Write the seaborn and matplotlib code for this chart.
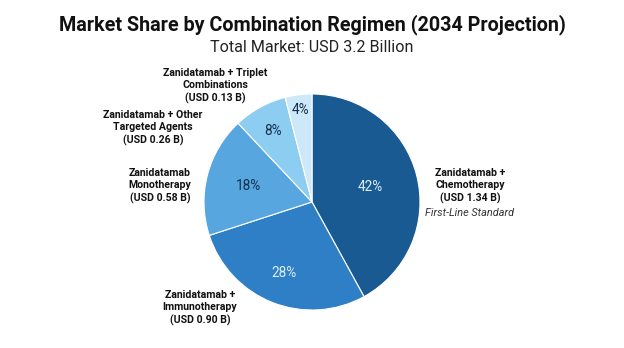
import numpy as np
import matplotlib
matplotlib.use("Agg")
import matplotlib.pyplot as plt
import seaborn as sns

# Datos del gráfico
regimens = ["Zanidatamab +\nChemotherapy", "Zanidatamab +\nImmunotherapy",
            "Zanidatamab\nMonotherapy", "Zanidatamab + Other\nTargeted Agents",
            "Zanidatamab + Triplet\nCombinations"]
shares = [42, 28, 18, 8, 4]
usd_billion = [1.34, 0.90, 0.58, 0.26, 0.13]
notes = ["First-Line Standard", "", "", "", ""]

colors = ["#195a92", "#2e7fc6", "#58a6df", "#8dcdf2", "#cde8f8"]
pct_colors = ["#dcecf8", "#dcecf8", "#15304f", "#15304f", "#15304f"]
pct_radius = [0.56, 0.71, 0.61, 0.75, 0.86]
# posiciones de las etiquetas externas (pixeles, origen arriba-izquierda)
label_pos = [(470, 186), (200, 308), (160, 186), (153, 128), (215, 86)]

sns.set_theme(style="white")
plt.rcParams['font.family'] = ['Roboto', 'DejaVu Sans']

W, H = 624, 348
fig = plt.figure(figsize=(W / 100, H / 100), dpi=100)
ax = fig.add_axes([0, 0, 1, 1])

cx, cy, r = 312, H - 202, 108
wedges, _ = ax.pie(shares, colors=colors, startangle=90, counterclock=False,
                   center=(cx, cy), radius=r, frame=True,
                   wedgeprops=dict(edgecolor="white", linewidth=0.8))
ax.set_xlim(0, W)
ax.set_ylim(0, H)
ax.set_aspect("equal")
ax.axis("off")

for w, s, c, d in zip(wedges, shares, pct_colors, pct_radius):
    ang = np.deg2rad((w.theta1 + w.theta2) / 2)
    ax.text(cx + d * r * np.cos(ang), cy + d * r * np.sin(ang), f"{s}%",
            ha="center", va="center", fontsize=9.8, color=c)

for name, v, note, (x, y) in zip(regimens, usd_billion, notes, label_pos):
    txt = f"{name}\n(USD {v:.2f} B)"
    ax.text(x, H - y, txt, ha="center", va="center", fontsize=7.6,
            fontweight="bold", color="#111111", linespacing=1.32)
    if note:
        ax.text(x, H - y - 27, note, ha="center", va="center",
                fontsize=7.8, style="italic", color="#333333")

fig.text(0.5, 1 - 25 / H, "Market Share by Combination Regimen (2034 Projection)",
         ha="center", va="center", fontsize=14.2, fontweight="bold", color="#111111")
fig.text(0.5, 1 - 47 / H, "Total Market: USD 3.2 Billion",
         ha="center", va="center", fontsize=11.6, color="#222222")

fig.savefig("out.png", dpi=100, facecolor="white")
